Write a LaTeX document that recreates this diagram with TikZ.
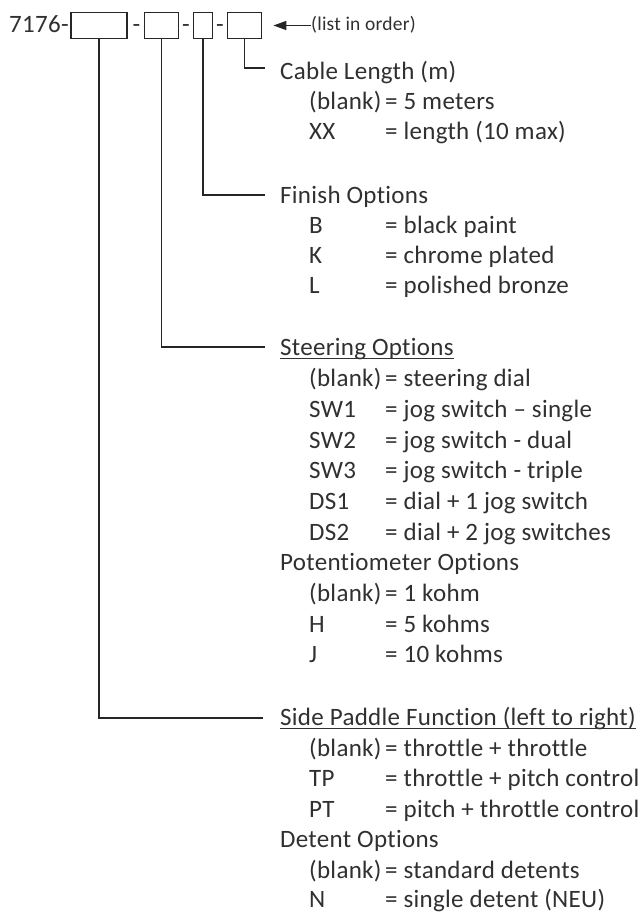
\documentclass[tikz,border=0pt]{standalone}
\usepackage{fontspec}
\setmainfont{Carlito}[Ligatures=NoCommon, LetterSpace=1.2]
\usetikzlibrary{arrows.meta}
\definecolor{txt}{HTML}{303030}
\definecolor{ln}{HTML}{262626}
\newcommand\optrow[4]{%
  \node[lbl] (#1c) at (309,#2) {#3};
  \node[lbl] (#1d) at (385,#2) {#4};}
\begin{document}
\begin{tikzpicture}[x=1pt,y=-1pt,
  lbl/.style={inner sep=0pt, anchor=base west, text=txt, font=\fontsize{25}{30}\selectfont},
  small/.style={inner sep=0pt, anchor=base west, text=txt, font=\fontsize{19.5}{22}\selectfont},
  box/.style={draw=ln, line width=1.8pt, fill=white, minimum width=#1, minimum height=26pt, inner sep=0pt},
  conn/.style={draw=ln, line width=1.6pt},
  uline/.style={draw=txt, line width=1.4pt}]
\useasboundingbox[fill=white] (0,0) rectangle (641,912);

% top code row
\node[lbl] (code) at (9,33) {7176-};
\node[box=56pt] (b1) at (99,25.5) {};
\node[lbl, anchor=base] (h1) at (136.5,33) {-};
\node[box=34pt] (b2) at (161.5,25.5) {};
\node[lbl, anchor=base] (h2) at (186,33) {-};
\node[box=19pt] (b3) at (203,25.5) {};
\node[lbl, anchor=base] (h3) at (220,33) {-};
\node[box=34pt] (b4) at (244.5,25.5) {};
\node[small] (list) at (311,31) {(list in order)};
\draw[conn, -{Triangle[length=13pt,width=9pt]}, shorten >=11pt] (list.west |- b4.east) -- (b4.east);

% connector ends
\coordinate (e4) at (265,68);
\coordinate (e3) at (265,195);
\coordinate (e2) at (265,347);
\coordinate (e1) at (263,718);
\draw[conn] (b4.south) |- (e4);
\draw[conn] (b3.south) |- (e3);
\draw[conn] (b2.south) |- (e2);
\draw[conn] (b1.south) |- (e1);

% Cable length
\node[lbl] (hcable) at (280,80) {Cable Length (m)};
\optrow{ca}{110}{(blank)}{= 5 meters}
\optrow{cb}{140}{XX}{= length (10 max)}

% Finish
\node[lbl] (hfin) at (280,203) {Finish Options};
\optrow{fa}{233}{B}{= black paint}
\optrow{fb}{263}{K}{= chrome plated}
\optrow{fc}{293}{L}{= polished bronze}

% Steering
\node[lbl] (hsteer) at (280,355) {Steering Options};
\draw[uline] ([yshift=-3.5pt]hsteer.base west) -- ([yshift=-3.5pt]hsteer.base east);
\optrow{sa}{386}{(blank)}{= steering dial}
\optrow{sb}{417}{SW1}{= jog switch – single}
\optrow{sc}{448}{SW2}{= jog switch - dual}
\optrow{sd}{478}{SW3}{= jog switch - triple}
\optrow{se}{509}{DS1}{= dial + 1 jog switch}
\optrow{sf}{540}{DS2}{= dial + 2 jog switches}
\node[lbl] (hpot) at (280,570) {Potentiometer Options};
\optrow{pa}{601}{(blank)}{= 1 kohm}
\optrow{pb}{632}{H}{= 5 kohms}
\optrow{pc}{662}{J}{= 10 kohms}

% Side paddle
\node[lbl] (hside) at (280,725) {Side Paddle Function (left to right)};
\draw[uline] ([yshift=-3.5pt]hside.base west) -- ([yshift=-3.5pt]hside.base east);
\optrow{da}{756}{(blank)}{= throttle + throttle}
\optrow{db}{786}{TP}{= throttle + pitch control}
\optrow{dc}{817}{PT}{= pitch + throttle control}
\node[lbl] (hdet) at (280,847) {Detent Options};
\optrow{ea}{878}{(blank)}{= standard detents}
\optrow{eb}{907}{N}{= single detent (NEU)}
\end{tikzpicture}
\end{document}
